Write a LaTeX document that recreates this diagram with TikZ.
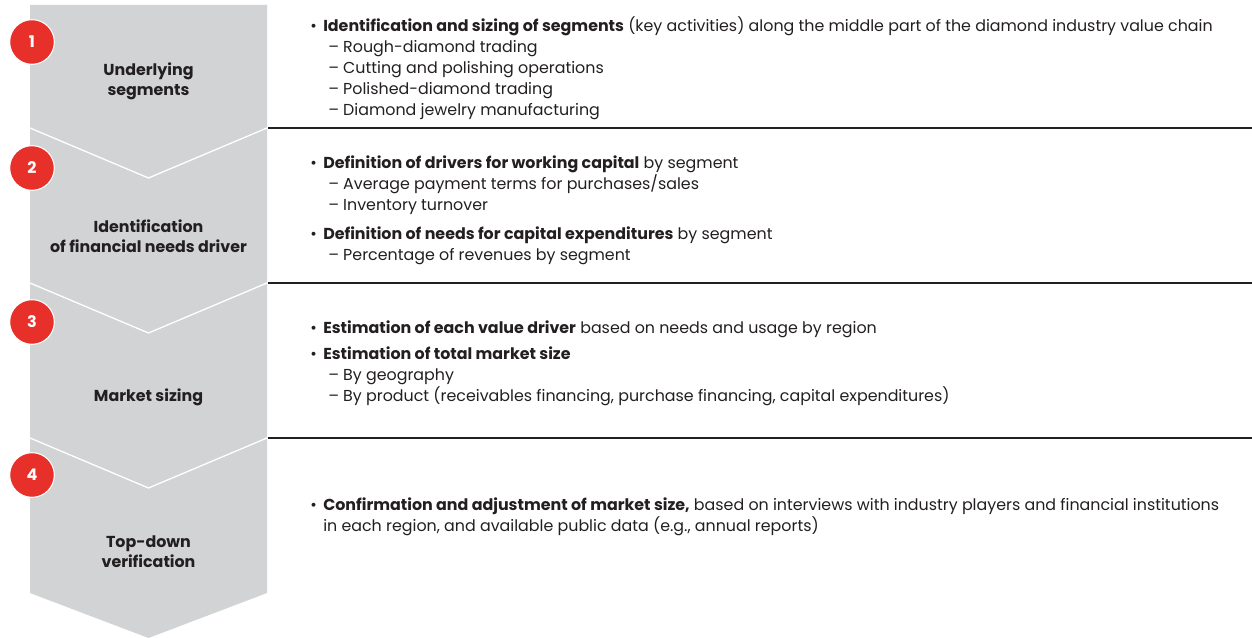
\documentclass[tikz,border=0pt]{standalone}
\usepackage{fontspec}
\setmainfont{Poppins}
\usetikzlibrary{positioning}
\definecolor{chevgray}{HTML}{D1D3D4}
\definecolor{stepred}{HTML}{E8302A}
\definecolor{inkdark}{HTML}{231F20}
\newcommand{\bul}{\makebox[9.75pt][l]{\textbullet}}
\newcommand{\sub}{\hspace*{13.5pt}--\ }
\begin{document}
\begin{tikzpicture}[x=0.75pt,y=-0.75pt,
	numdot/.style={circle,fill=stepred,draw=white,line width=0.8pt,minimum size=33.5pt,inner sep=0pt,text=white,font=\bfseries\fontsize{12}{12}\selectfont},
	steplabel/.style={align=center,text=inkdark,font=\bfseries\fontsize{11.9}{15}\selectfont},
	bodyline/.style={anchor=mid west,inner sep=0pt,text=inkdark,font=\fontsize{11.9}{13}\selectfont}]
	\useasboundingbox (0,0) rectangle (1252,638);
	\def\xl{30} \def\xr{267} \def\xm{148.5}
	% grey chevron column
	\fill[chevgray] (\xl,5)--(\xr,5)--(\xr,593)--(\xm,638)--(\xl,593)--cycle;
	\foreach \y in {128,283,438} {
		\draw[white,line width=1pt] (\xl,\y)--(\xm,\y+50)--(\xr,\y);
		\draw[inkdark,line width=0.8pt] (\xr+1,\y)--(1252,\y);
	}
	% step numbers and names
	\foreach \n/\y in {1/42,2/168,3/322,4/475}
		\node[numdot] (num\n) at (32,\y) {\n};
	\node[steplabel] (name1) at (\xm,81) {Underlying\\segments};
	\node[steplabel] (name2) at (\xm,236) {Identification\\of financial needs driver};
	\node[steplabel] (name3) at (\xm,397) {Market sizing};
	\node[steplabel] (name4) at (\xm,552) {Top-down\\verification};
	% texts on the right
	\foreach \y/\txt [count=\i] in {
		28/{\bul\textbf{Identification and sizing of segments} (key activities) along the middle part of the diamond industry value chain},
		49/{\sub Rough-diamond trading},
		70/{\sub Cutting and polishing operations},
		91/{\sub Polished-diamond trading},
		112/{\sub Diamond jewelry manufacturing},
		165/{\bul\textbf{Definition of drivers for working capital} by segment},
		186/{\sub Average payment terms for purchases/sales},
		207/{\sub Inventory turnover},
		236/{\bul\textbf{Definition of needs for capital expenditures} by segment},
		257/{\sub Percentage of revenues by segment},
		330/{\bul\textbf{Estimation of each value driver} based on needs and usage by region},
		356/{\bul\textbf{Estimation of total market size}},
		377/{\sub By geography},
		398/{\sub By product (receivables financing, purchase financing, capital expenditures)},
		507/{\bul\textbf{Confirmation and adjustment of market size,} based on interviews with industry players and financial institutions},
		528/{\hspace*{9.75pt}in each region, and available public data (e.g., annual reports)}}
		\node[bodyline] (line\i) at (310,\y) {\txt};
\end{tikzpicture}
\end{document}
